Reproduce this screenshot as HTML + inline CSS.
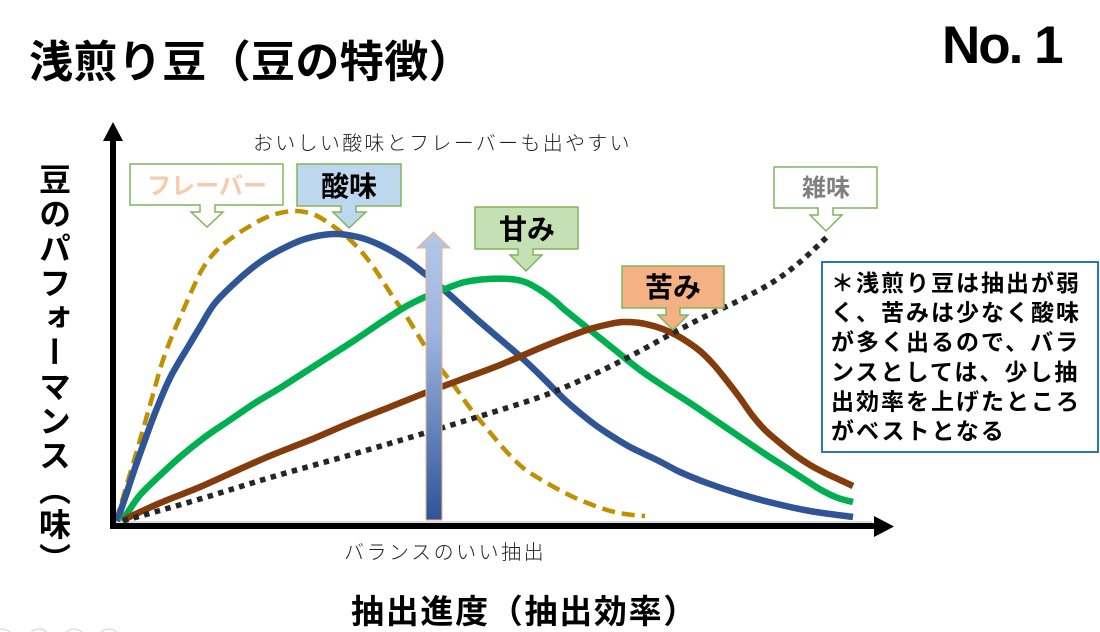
<!DOCTYPE html>
<html>
<head>
<meta charset="utf-8">
<style>
  html,body{margin:0;padding:0;background:#fff;}
  body{width:1100px;height:632px;position:relative;overflow:hidden;
       font-family:"Liberation Sans","Noto Sans CJK JP",sans-serif;}
  svg{position:absolute;left:0;top:0;}
  .ylab{position:absolute;left:33px;top:163px;width:40px;line-height:40px;
        writing-mode:vertical-rl;text-orientation:mixed;font-size:32px;font-weight:bold;
        letter-spacing:2.5px;color:#000;
        font-family:"Liberation Sans","Noto Sans CJK JP",sans-serif;}
</style>
</head>
<body>
<svg id="chart" width="1100" height="632" viewBox="0 0 1100 632" xmlns="http://www.w3.org/2000/svg"
     font-family="'Liberation Sans','Noto Sans CJK JP',sans-serif">
  <defs>
    <linearGradient id="ag" x1="0" y1="232" x2="0" y2="520" gradientUnits="userSpaceOnUse">
      <stop offset="0" stop-color="#b4c7e7"/>
      <stop offset="0.35" stop-color="#9db5e0"/>
      <stop offset="1" stop-color="#2f5597"/>
    </linearGradient>
  </defs>

  <!-- Title -->
  <text x="29" y="77" font-size="44" font-weight="bold" letter-spacing="0.4" fill="#000">浅煎り豆（豆の特徴）</text>
  <text x="942" y="63" font-size="53" font-weight="bold" letter-spacing="-2" fill="#000" font-family="'Liberation Sans',sans-serif">No. 1</text>

  <!-- subtitle -->
  <text x="253" y="150" font-size="20" font-weight="300" letter-spacing="2.3" fill="#222">おいしい酸味とフレーバーも出やすい</text>

  <!-- thin gray line above x axis -->
  <line x1="112" y1="522" x2="872" y2="522" stroke="#bbbbbb" stroke-width="1"/>

  <!-- curves -->
  <polyline class="s" fill="none" stroke="#bf9000" stroke-width="4.5" stroke-dasharray="13 7" stroke-linejoin="round"
    points="116,521 127,484 138,447 150,405 162,363 172,336 182,313 193,288 203,268 216,251 233,237 250,226 265,218 280,213 297,211 315,215 333,226 347,237 360,250 372,265 382,280 393,297 405,314 418,335 432,357 455,387 470,408 488,430 505,450 522,467 540,479 565,493 585,502 607,510 625,514 645,516"/>
  <polyline class="s" fill="none" stroke="#2f5597" stroke-width="6.5" stroke-linejoin="round"
    points="117,521 125,498 135,468 145,440 155,413 170,378 188,347 200,327 215,303 238,280 260,262 280,250 305,239 333,234 358,237 380,245 405,259 425,274 442,288 480,322 522,358 545,380 565,400 590,421 607,433 630,447 657,460 680,472 707,483 740,494 773,503 810,511 853,517"/>
  <polyline class="s" fill="none" stroke="#00b050" stroke-width="6.5" stroke-linejoin="round"
    points="122,521 130,509 140,495 155,480 180,457 205,437 230,420 255,403 280,388 305,372 330,356 355,340 380,323 405,307 425,297 445,289 465,282 488,279 510,279 525,282 540,290 555,301 565,310 590,330 615,350 640,370 665,387 690,403 715,420 740,437 765,454 790,470 810,483 823,491 838,498 853,502"/>
  <polyline class="s" fill="none" stroke="#843c0c" stroke-width="6.5" stroke-linejoin="round"
    points="123,520 160,503 200,487 240,469 272,455 310,440 350,423 390,407 425,393 460,380 500,365 540,348 565,338 590,329 610,324 623,322 640,323 657,327 670,332 683,339 700,351 714,365 727,381 740,398 752,415 765,430 780,443 795,455 810,465 825,473 840,480 853,486"/>
  <polyline class="s" fill="none" stroke="#262626" stroke-width="5.5" stroke-dasharray="5.5 5.5" stroke-linejoin="round"
    points="123,521 200,499 272,477 350,455 425,433 500,410 540,397 570,385 607,368 640,351 673,333 706,316 740,300 773,282 800,262 828,236"/>

  <!-- gradient up arrow -->
  <path d="M426,520 V248 H417 L433.5,232 L450,248 H442 V520 Z" fill="url(#ag)" stroke="#f4b183" stroke-width="1"/>

  <!-- axes -->
  <rect x="110" y="138" width="6" height="391" fill="#000"/>
  <polygon points="103,141 123,141 113,122" fill="#000"/>
  <rect x="110" y="523" width="766" height="6" fill="#000"/>
  <polygon points="874,516 874,537 894,526.5" fill="#000"/>

  <!-- callouts -->
  <path d="M130,164 H283 V205 H215 V212 H223 L207,227 L191,212 H200 V205 H130 Z" fill="#fff" stroke="#7fb55a" stroke-width="1.5"/>
  <text x="207" y="194" font-size="24" font-weight="bold" fill="#f8cbad" text-anchor="middle">フレーバー</text>

  <path d="M297,164 H401 V206 H356 V212 H366 L349,228 L333,212 H341 V206 H297 Z" fill="#bdd7ee" stroke="#7fb55a" stroke-width="1.5"/>
  <text x="349" y="196" font-size="28" font-weight="bold" fill="#000" text-anchor="middle">酸味</text>

  <path d="M475,207 H578 V249 H533 V255 H542 L526,271 L510,255 H518 V249 H475 Z" fill="#c5e0b4" stroke="#7fb55a" stroke-width="1.5"/>
  <text x="527" y="239" font-size="28" font-weight="bold" fill="#000" text-anchor="middle">甘み</text>

  <path d="M622,266 H724 V308 H680 V315 H688 L673,330 L658,315 H666 V308 H622 Z" fill="#f4b183" stroke="#7fb55a" stroke-width="1.5"/>
  <text x="673" y="297" font-size="28" font-weight="bold" fill="#000" text-anchor="middle">苦み</text>

  <path d="M774,167 H877 V208 H833 V215 H842 L826,231 L810,215 H818 V208 H774 Z" fill="#fff" stroke="#7fb55a" stroke-width="1.5"/>
  <text x="826" y="196" font-size="24" font-weight="bold" fill="#7f7f7f" text-anchor="middle">雑味</text>

  <!-- note box -->
  <rect x="822" y="262" width="276" height="190" fill="#fff" stroke="#2e75b6" stroke-width="2"/>
  <g font-size="23" font-weight="bold" fill="#000" letter-spacing="2">
    <text x="831" y="291">＊浅煎り豆は抽出が弱</text>
    <text x="831" y="320.6">く、苦みは少なく酸味</text>
    <text x="831" y="350.2">が多く出るので、バラ</text>
    <text x="831" y="379.8">ンスとしては、少し抽</text>
    <text x="831" y="409.4">出効率を上げたところ</text>
    <text x="831" y="439">がベストとなる</text>
  </g>

  <!-- bottom labels -->
  <text x="344" y="559" font-size="20" font-weight="300" letter-spacing="2.5" fill="#222">バランスのいい抽出</text>
  <text x="351" y="623" font-size="33" font-weight="bold" letter-spacing="1.7" fill="#000">抽出進度（抽出効率）</text>

  <!-- faint circles bottom-left -->
  <g fill="none" stroke="#d0d0d0" stroke-width="1">
    <circle cx="2" cy="640" r="11"/>
    <circle cx="39" cy="640" r="11"/>
    <circle cx="74" cy="640" r="11"/>
    <circle cx="109" cy="640" r="11"/>
  </g>
</svg>
<div class="ylab">豆のパフォーマンス（味）</div>
<script>
(function(){
  var NS="http://www.w3.org/2000/svg";
  var pls=document.querySelectorAll('polyline.s');
  for(var k=0;k<pls.length;k++){
    var pl=pls[k];
    var pts=pl.getAttribute('points').trim().split(/\s+/).map(function(p){return p.split(',').map(Number);});
    var d='M'+pts[0][0]+','+pts[0][1];
    for(var i=0;i<pts.length-1;i++){
      var p0=pts[i>0?i-1:i],p1=pts[i],p2=pts[i+1],p3=pts[i+2<pts.length?i+2:i+1];
      var c1x=p1[0]+(p2[0]-p0[0])/6,c1y=p1[1]+(p2[1]-p0[1])/6;
      var c2x=p2[0]-(p3[0]-p1[0])/6,c2y=p2[1]-(p3[1]-p1[1])/6;
      d+=' C'+c1x.toFixed(2)+','+c1y.toFixed(2)+' '+c2x.toFixed(2)+','+c2y.toFixed(2)+' '+p2[0]+','+p2[1];
    }
    var path=document.createElementNS(NS,'path');
    path.setAttribute('d',d);
    var attrs=['fill','stroke','stroke-width','stroke-dasharray','stroke-linejoin'];
    for(var a=0;a<attrs.length;a++){var v=pl.getAttribute(attrs[a]);if(v!==null)path.setAttribute(attrs[a],v);}
    pl.parentNode.replaceChild(path,pl);
  }
})();
</script>
</body>
</html>
